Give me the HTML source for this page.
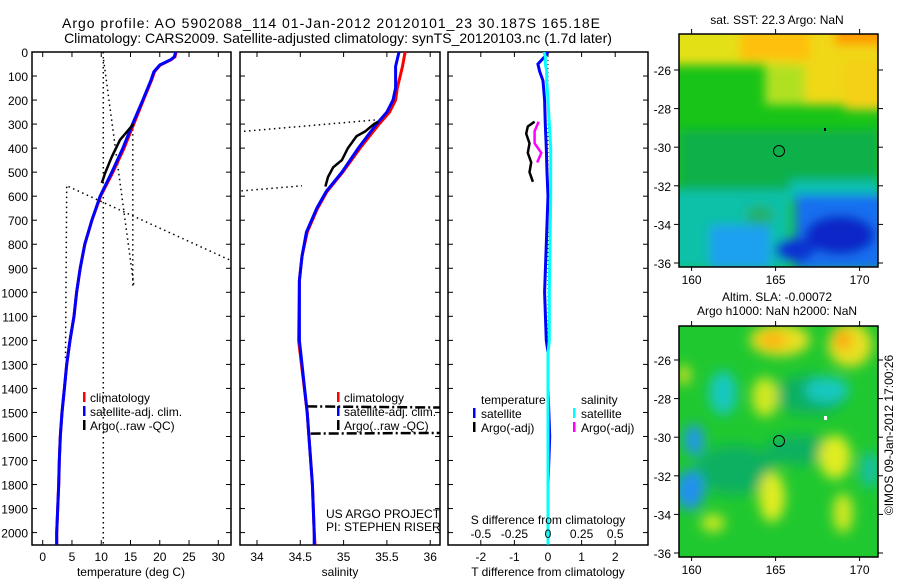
<!DOCTYPE html>
<html><head><meta charset="utf-8"><style>
html,body{margin:0;padding:0;background:#fff;width:900px;height:580px;overflow:hidden}
svg{display:block;font-family:"Liberation Sans",sans-serif}
text{fill:#000}
</style></head><body>
<svg id="chart" width="900" height="580" viewBox="0 0 900 580">
<defs>
<clipPath id="c1"><rect x="32" y="52" width="199" height="493"/></clipPath>
<clipPath id="c2"><rect x="240" y="52" width="200" height="493"/></clipPath>
<clipPath id="c3"><rect x="448" y="52" width="200" height="493"/></clipPath>
<clipPath id="m1"><rect x="679" y="34" width="199" height="233"/></clipPath>
<clipPath id="m2"><rect x="679" y="326" width="199" height="231"/></clipPath>
<filter id="bl" x="-30%" y="-30%" width="160%" height="160%"><feGaussianBlur stdDeviation="5"/></filter>
<filter id="bl2" x="-50%" y="-50%" width="200%" height="200%"><feGaussianBlur stdDeviation="6"/></filter>
</defs>
<text x="331" y="28" font-size="14" text-anchor="middle" textLength="538" lengthAdjust="spacing">Argo profile: AO 5902088_114 01-Jan-2012 20120101_23 30.187S 165.18E</text>
<text x="338" y="43" font-size="14" text-anchor="middle">Climatology: CARS2009. Satellite-adjusted climatology: synTS_20120103.nc (1.7d later)</text>

<g id="p1"></g>
<g id="p2"></g>
<g id="p3"></g>

<!-- SST map -->
<g>
<text x="777" y="24" font-size="12" text-anchor="middle">sat. SST: 22.3 Argo: NaN</text>
<g clip-path="url(#m1)">
<rect x="679" y="34" width="199" height="233" fill="#18c418"/>
<g filter="url(#bl)">
<rect x="670" y="25" width="215" height="40" fill="#e4e018"/>
<rect x="790" y="25" width="95" height="80" fill="#f0d818"/>
<rect x="845" y="60" width="40" height="50" fill="#f4d018"/>
<rect x="740" y="30" width="70" height="30" fill="#ffc010"/>
<rect x="835" y="25" width="50" height="20" fill="#ff9a00"/>
<rect x="765" y="65" width="40" height="40" fill="#b0e020"/>
<rect x="679" y="130" width="200" height="60" fill="#10b048"/>
<rect x="670" y="190" width="120" height="80" fill="#10c0a8"/>
<rect x="790" y="180" width="90" height="20" fill="#10c0b0"/>
<rect x="795" y="195" width="90" height="75" fill="#1870f0"/>
<rect x="710" y="225" width="60" height="45" fill="#1aa0f0"/>
<ellipse cx="840" cy="235" rx="35" ry="20" fill="#0828c8"/>
<ellipse cx="795" cy="250" rx="20" ry="12" fill="#1030d0"/>
<ellipse cx="760" cy="215" rx="14" ry="10" fill="#20b070"/>
</g>
</g>
<rect x="679" y="34" width="199" height="233" fill="none" stroke="#000" stroke-width="1.5"/>
<circle cx="779" cy="151" r="5.5" fill="none" stroke="#000" stroke-width="1"/>
<rect x="824" y="128" width="2" height="3" fill="#000"/>
</g>

<!-- SLA map -->
<g>
<text x="777" y="301" font-size="12" text-anchor="middle">Altim. SLA: -0.00072</text>
<text x="777" y="315" font-size="12" text-anchor="middle">Argo h1000: NaN h2000: NaN</text>
<g clip-path="url(#m2)">
<rect x="679" y="326" width="199" height="231" fill="#20c830"/>
<g filter="url(#bl2)">
<ellipse cx="735" cy="470" rx="40" ry="25" fill="#10b060"/>
<ellipse cx="800" cy="450" rx="35" ry="15" fill="#10b060"/>
<ellipse cx="810" cy="395" rx="35" ry="20" fill="#10b060"/>
<ellipse cx="780" cy="340" rx="30" ry="16" fill="#e8e020"/>
<ellipse cx="773" cy="340" rx="14" ry="8" fill="#ffb010"/>
<ellipse cx="850" cy="345" rx="22" ry="22" fill="#e8e020"/>
<ellipse cx="843" cy="340" rx="8" ry="10" fill="#ffa010"/>
<ellipse cx="723" cy="393" rx="14" ry="22" fill="#18c8c0"/>
<ellipse cx="827" cy="390" rx="22" ry="13" fill="#18c8c0"/>
<ellipse cx="765" cy="397" rx="13" ry="20" fill="#d0e820"/>
<ellipse cx="694" cy="440" rx="10" ry="16" fill="#2098e8"/>
<ellipse cx="690" cy="490" rx="14" ry="20" fill="#2090f0"/>
<ellipse cx="835" cy="457" rx="16" ry="22" fill="#e0ec20"/>
<ellipse cx="772" cy="497" rx="13" ry="25" fill="#e0ec20"/>
<ellipse cx="843" cy="513" rx="10" ry="20" fill="#d0e820"/>
<ellipse cx="713" cy="523" rx="12" ry="9" fill="#c8e820"/>
<ellipse cx="684" cy="375" rx="6" ry="10" fill="#e0e020"/>
<ellipse cx="870" cy="470" rx="10" ry="18" fill="#18c0a0"/>
</g>
</g>
<rect x="679" y="326" width="199" height="231" fill="none" stroke="#000" stroke-width="1.5"/>
<circle cx="779" cy="441" r="5.5" fill="none" stroke="#000" stroke-width="1"/>
<rect x="824" y="416" width="3" height="4" fill="#fff"/>
</g>
<text transform="translate(893,435) rotate(-90)" font-size="12" text-anchor="middle">©IMOS 09-Jan-2012 17:00:26</text>

<script>
// ---- data ----
const depthTicks = [0,100,200,300,400,500,600,700,800,900,1000,1100,1200,1300,1400,1500,1600,1700,1800,1900,2000];
const tempTicks = [0,5,10,15,20,25,30];
const salTicks = [34,34.5,35,35.5,36];
const salTickLabels = ["34","34.5","35","35.5","36"];
const tdiffTicks = [-2,-1,0,1,2];
const sdiffTicks = [-0.5,-0.25,0,0.25,0.5];
const sdiffTickLabels = ["-0.5","-0.25","0","0.25","0.5"];

const climDepth = [0,20,33,54,82,117,200,297,400,500,600,700,800,900,1000,1100,1200,1300,1400,1500,1600,1700,1800,1900,2000,2050];
const climTemp  = [22.8,22.6,21.9,20.1,19.1,18.6,17.2,15.6,13.9,12.0,9.9,8.4,7.2,6.4,5.8,5.35,4.66,4.1,3.7,3.3,3.0,2.84,2.73,2.56,2.39,2.39];
const satTemp   = [22.7,22.5,21.8,20.0,19.0,18.5,17.1,15.4,13.7,11.8,9.8,8.4,7.2,6.4,5.8,5.35,4.66,4.1,3.7,3.3,3.0,2.84,2.73,2.56,2.39,2.39];
const argoTDepth = [300,317,366,436,505,545];
const argoTemp   = [15.5,14.9,13.2,11.8,10.65,10.1];
const rawTDepthA = [0,2052]; const rawTempA = [10.36,10.36];
const rawTDepthB = [33,977]; const rawTempB = [10.4,15.6];
const rawTDepthC = [300,980]; const rawTempC = [15.4,15.4];
const rawTDepthD = [560,866]; const rawTempD = [4.4,32];
const rawTDepthE = [560,1282]; const rawTempE = [4.1,3.9];

const salDepth = [0,60,150,200,250,300,400,500,580,650,750,850,950,1200,1500,1800,2000,2050];
const climSal  = [35.71,35.68,35.62,35.6,35.53,35.41,35.19,34.99,34.81,34.7,34.58,34.52,34.49,34.48,34.58,34.64,34.66,34.67];
const satSal   = [35.64,35.6,35.6,35.57,35.5,35.38,35.17,34.98,34.8,34.69,34.57,34.52,34.49,34.49,34.58,34.64,34.66,34.66];
const argoSDepth = [290,300,330,350,400,450,480,520,560];
const argoSal    = [35.4,35.35,35.25,35.15,35.05,34.98,34.88,34.82,34.79];
const rawSDepthA = [330,283]; const rawSalA = [33.85,35.36];
const rawSDepthB = [578,557]; const rawSalB = [33.82,34.52];
const rawSDepthC = [1475,1480]; const rawSalC = [34.58,36.2];
const rawSDepthD = [1588,1585]; const rawSalD = [34.62,36.2];

const diffDepth = [0,20,50,80,120,200,300,400,500,600,800,1000,1200,1250,1400,1600,1800,2050];
const satTdiff  = [0.0,-0.1,-0.3,-0.25,-0.15,-0.1,-0.08,-0.05,-0.03,0.0,-0.05,-0.1,-0.05,0.0,0.0,0.05,0.0,0.0];
const satSdiff  = [-0.03,-0.02,-0.02,-0.01,-0.01,0.0,0.01,0.02,0.02,0.02,0.015,0.01,0.01,0.0,0.0,0.0,0.0,0.0];
const argoDDepth = [290,310,340,380,420,460,500,540];
const argoTdiff  = [-0.4,-0.6,-0.65,-0.55,-0.6,-0.5,-0.55,-0.45];
const argoSDDepth = [290,330,380,420,460];
const argoSdiff  = [-0.07,-0.1,-0.1,-0.05,-0.08];

// ---- scales ----
const Y = d => 52 + d*0.2403;
const XT = t => 42.7 + t*5.853;
const XS = s => 257 + (s-34)*86.6;
const XD = t => 548 + t*33.6;
const XSD = s => 548 + s*134.4;
const NS = "http://www.w3.org/2000/svg";
function el(tag, attrs, parent){const e=document.createElementNS(NS,tag);for(const k in attrs)e.setAttribute(k,attrs[k]);parent.appendChild(e);return e;}
function line(parent, xs, ds, xf, color, w, dash, name){
  const pts = xs.map((v,i)=>xf(v).toFixed(1)+","+Y(ds[i]).toFixed(1)).join(" ");
  const p = el("polyline",{points:pts,fill:"none",stroke:color,"stroke-width":w},parent);
  if(dash){p.setAttribute("stroke-dasharray",dash);}
  
  
  return p;
}
function txt(parent,x,y,s,anchor,size,name){
  const t=el("text",{x:x,y:y,"font-size":size||12,"text-anchor":anchor||"start"},parent);t.textContent=s;
  
  
  return t;
}
function frame(parent,x0,x1){
  const r=el("rect",{x:x0,y:52,width:x1-x0,height:493,fill:"none",stroke:"#000","stroke-width":1.5},parent);
  
  
  depthTicks.forEach(d=>{
    el("line",{x1:x0,x2:x0+5,y1:Y(d),y2:Y(d),stroke:"#000"},parent);
    el("line",{x1:x1-5,x2:x1,y1:Y(d),y2:Y(d),stroke:"#000"},parent);
  });
}
function xticks(parent,vals,xf){
  vals.forEach(v=>{
    el("line",{x1:xf(v),x2:xf(v),y1:52,y2:57,stroke:"#000"},parent);
    el("line",{x1:xf(v),x2:xf(v),y1:540,y2:545,stroke:"#000"},parent);
  });
}
const DOT="1.5 3.5";
// panel 1
const p1=document.getElementById("p1");
frame(p1,32,231); xticks(p1,tempTicks,XT);
depthTicks.forEach(d=>txt(p1,28,Y(d)+5,String(d),"end",12,"depth-tick-label"));
tempTicks.forEach(t=>txt(p1,XT(t),561,String(t),"middle",12,"temperature-tick-label"));
txt(p1,131,576,"temperature (deg C)","middle",12,"x-axis-title-temperature");
const g1=el("g",{"clip-path":"url(#c1)"},p1);
line(g1,rawTempA,rawTDepthA,XT,"#000",1.5,DOT,"raw-temp-dotted-a");
line(g1,rawTempB,rawTDepthB,XT,"#000",1.5,DOT,"raw-temp-dotted-b");
line(g1,rawTempC,rawTDepthC,XT,"#000",1.5,DOT,"raw-temp-dotted-c");
line(g1,rawTempD,rawTDepthD,XT,"#000",1.5,DOT,"raw-temp-dotted-d");
line(g1,rawTempE,rawTDepthE,XT,"#000",1.5,DOT,"raw-temp-dotted-e");
line(g1,climTemp,climDepth,XT,"#f00",3,null,"climatology-temperature-line");
line(g1,satTemp,climDepth,XT,"#00f",3,null,"satellite-temperature-line");
line(g1,argoTemp,argoTDepth,XT,"#000",2.5,null,"argo-temperature-line");
[["#f00","climatology",402],["#00f","satellite-adj. clim.",416],["#000","Argo(..raw -QC)",430]].forEach(l=>{
  el("rect",{x:83,y:l[2]-10,width:2.5,height:10,fill:l[0]},g1);
  txt(g1,90,l[2],l[1],"start",12,"legend-entry");
});
// panel 2
const p2=document.getElementById("p2");
frame(p2,240,440); xticks(p2,salTicks,XS);
salTicks.forEach((s,i)=>txt(p2,XS(s),561,salTickLabels[i],"middle",12,"salinity-tick-label"));
txt(p2,340,576,"salinity","middle",12,"x-axis-title-salinity");
const g2=el("g",{"clip-path":"url(#c2)"},p2);
line(g2,rawSalA,rawSDepthA,XS,"#000",1.5,DOT,"raw-sal-dotted-a");
line(g2,rawSalB,rawSDepthB,XS,"#000",1.5,DOT,"raw-sal-dotted-b");
line(g2,climSal,salDepth,XS,"#f00",3,null,"climatology-salinity-line");
line(g2,satSal,salDepth,XS,"#00f",3,null,"satellite-salinity-line");
line(g2,argoSal,argoSDepth,XS,"#000",2.5,null,"argo-salinity-line");
[["#f00","climatology",402],["#00f","satellite-adj. clim.",416],["#000","Argo(..raw -QC)",430]].forEach(l=>{
  el("rect",{x:337,y:l[2]-10,width:2.5,height:10,fill:l[0]},g2);
  txt(g2,344,l[2],l[1],"start",12,"legend-entry");
});
line(g2,rawSalC,rawSDepthC,XS,"#000",2.5,"10 3 2 3","raw-sal-dashdot-c");
line(g2,rawSalD,rawSDepthD,XS,"#000",2.5,"10 3 2 3","raw-sal-dashdot-d");
txt(g2,326,518,"US ARGO PROJECT","start",12,"project-label");
txt(g2,326,531,"PI: STEPHEN RISER","start",12,"pi-label");
// panel 3
const p3=document.getElementById("p3");
frame(p3,448,648); xticks(p3,tdiffTicks,XD);
tdiffTicks.forEach(t=>txt(p3,XD(t),561,String(t),"middle",12,"tdiff-tick-label"));
txt(p3,548,576,"T difference from climatology","middle",12,"x-axis-title-tdiff");
const g3=el("g",{"clip-path":"url(#c3)"},p3);
el("line",{x1:XD(0),x2:XD(0),y1:52,y2:545,stroke:"#000","stroke-dasharray":"1 3"},g3);
line(g3,satTdiff,diffDepth,XD,"#00f",3,null,"satellite-tdiff-line");
line(g3,satSdiff,diffDepth,XSD,"#0ff",3,null,"satellite-sdiff-line");
line(g3,argoTdiff,argoDDepth,XD,"#000",2.5,null,"argo-tdiff-line");
line(g3,argoSdiff,argoSDDepth,XSD,"#f0f",2.5,null,"argo-sdiff-line");
txt(g3,481,404,"temperature","start",12,"legend-heading-temperature");
txt(g3,581,404,"salinity","start",12,"legend-heading-salinity");
[["#00f","satellite",473,418],["#000","Argo(-adj)",473,432],["#0ff","satellite",573,418],["#f0f","Argo(-adj)",573,432]].forEach(l=>{
  el("rect",{x:l[2],y:l[3]-10,width:2.5,height:10,fill:l[0]},g3);
  txt(g3,l[2]+8,l[3],l[1],"start",12,"legend-entry");
});
txt(g3,548,524,"S difference from climatology","middle",12,"sdiff-axis-title");
sdiffTicks.forEach((s,i)=>txt(g3,XSD(s),538,sdiffTickLabels[i],"middle",12,"sdiff-tick-label"));

// map axes
const lonTicks=[160,165,170];
const latTicks=[-26,-28,-30,-32,-34,-36];
const svg=document.getElementById("chart");
const LX = lon => 775.6 + (lon-165)*16.8;
[[34,267,70,"sst"],[326,557,360,"sla"]].forEach(m=>{
  const g=el("g",{},svg);
  
  
  const LY = lat => m[2] + (-26-lat)*19.3;
  latTicks.forEach(l=>{
    el("line",{x1:674,x2:679,y1:LY(l),y2:LY(l),stroke:"#000"},g);
    el("line",{x1:878,x2:883,y1:LY(l),y2:LY(l),stroke:"#000"},g);
    txt(g,671,LY(l)+5,String(l),"end",12,"latitude-tick-label");
  });
  lonTicks.forEach(l=>{
    el("line",{x1:LX(l),x2:LX(l),y1:m[0]-5,y2:m[0],stroke:"#000"},g);
    el("line",{x1:LX(l),x2:LX(l),y1:m[1],y2:m[1]+4,stroke:"#000"},g);
    txt(g,LX(l),m[1]+17,String(l),"middle",12,"longitude-tick-label");
  });
});
</script>
</svg>
</body></html>
